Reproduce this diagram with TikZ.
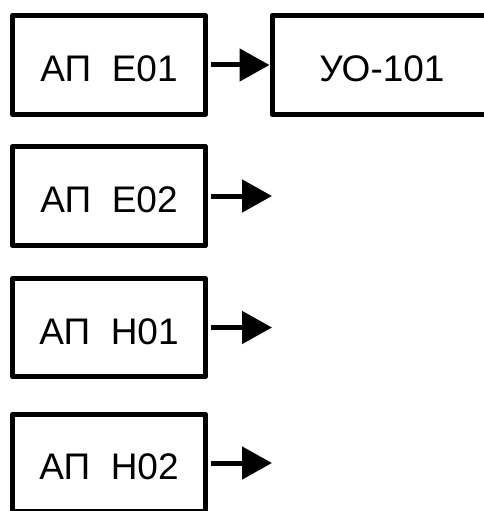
\documentclass[tikz,border=0pt]{standalone}
\usepackage{fontspec}
\setmainfont{Liberation Sans}
\usetikzlibrary{arrows.meta}
\begin{document}
\begin{tikzpicture}[x=1pt,y=-1pt,
  box/.style={draw=black,line width=5pt,line join=round,rectangle,inner sep=0pt,
    minimum width=193pt,font=\fontsize{37}{40}\selectfont,text height=33pt,text depth=0pt},
  conn/.style={line width=5pt,-{Triangle[length=30pt,width=32pt]}}]
\useasboundingbox (0,0) rectangle (484,511);
\clip (0,0) rectangle (484,511);
\node[box,minimum height=99pt] (a1) at (109,65) {АП\ \ E01};
\node[box,minimum height=99pt,minimum width=220pt] (uo) at (382,65) {УО-101};
\node[box,minimum height=99pt] (a2) at (109,196) {АП\ \ E02};
\node[box,minimum height=98pt] (a3) at (109,327.5) {АП\ \ H01};
\node[box,minimum height=97.5pt] (a4) at (109,463) {АП\ \ H02};
\coordinate (e2) at (272,196);
\coordinate (e3) at (272,327.5);
\coordinate (e4) at (272,463);
\draw[conn] ([xshift=3pt]a1.east) -- (uo.west);
\draw[conn] ([xshift=3pt]a2.east) -- (e2);
\draw[conn] ([xshift=3pt]a3.east) -- (e3);
\draw[conn] ([xshift=3pt]a4.east) -- (e4);
\end{tikzpicture}
\end{document}
